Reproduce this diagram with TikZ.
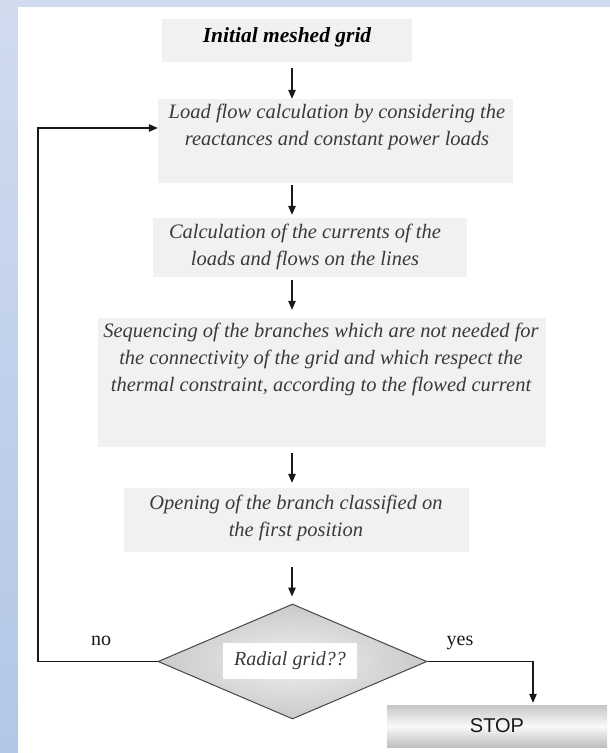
\documentclass[tikz,border=0pt]{standalone}
\usepackage{fontspec}
\setmainfont{Liberation Serif}
\newfontfamily\stopfont{Liberation Sans}
\usetikzlibrary{arrows.meta,shapes.geometric}
\definecolor{paneltop}{RGB}{208,219,238}
\definecolor{stripbot}{RGB}{178,198,231}
\definecolor{boxgray}{RGB}{241,241,241}
\definecolor{txtgray}{RGB}{58,58,58}
\definecolor{linegray}{RGB}{25,25,25}
\definecolor{diaedge}{RGB}{70,70,70}

\begin{document}
\begin{tikzpicture}[x=1pt,y=-1pt,
  procbox/.style={draw=none,fill=boxgray,inner sep=0pt},
  bodytext/.style={font=\fontsize{20.5}{27}\selectfont\itshape,text=txtgray,align=center,inner sep=0pt},
  flow/.style={draw=linegray,line width=1.3pt,-{Triangle[length=9pt,width=7.5pt]}},
  answer/.style={font=\fontsize{20}{24}\selectfont,text=linegray,inner sep=0pt},
  stopbox/.style={draw=none,inner sep=0pt,top color=gray!45,bottom color=gray!50,middle color=white!96!gray}]

% page background with the blue frame
\useasboundingbox (0,0) rectangle (610,753);
\fill[paneltop] (0,0) rectangle (610,753);
\shade[top color=paneltop,bottom color=stripbot] (0,0) rectangle (18,753);
\fill[white] (18,7) rectangle (610,753);

% guide coordinates
\coordinate (ax) at (292,0);
\coordinate (loopx) at (38,0);
\coordinate (loopy) at (0,128);
\coordinate (stopx) at (533,0);

% process boxes
\node[procbox,minimum width=250pt,minimum height=43pt] (b1) at (287,40.5) {};
\node[procbox,minimum width=355pt,minimum height=84pt] (b2) at (335.5,141) {};
\node[procbox,minimum width=314pt,minimum height=59pt] (b3) at (310,247.5) {};
\node[procbox,minimum width=448pt,minimum height=129pt] (b4) at (322,382.5) {};
\node[procbox,minimum width=345pt,minimum height=64pt] (b5) at (296.5,520) {};

% box texts
\node[font=\fontsize{21.5}{26}\selectfont\bfseries\itshape,inner sep=0pt] (t1) at (287,37.5) {Initial meshed grid};
\node[bodytext] (t2) at (337,127) {Load flow calculation by considering the\\reactances and constant power loads};
\node[bodytext] (t3) at (305,247) {Calculation of the currents of the\\loads and flows on the lines};
\node[bodytext] (t4) at (321,359) {Sequencing of the branches which are not needed for\\the connectivity of the grid and which respect the\\thermal constraint, according to the flowed current};
\node[bodytext] (t5) at (296,518) {Opening of the branch classified on\\the first position};

% decision
\node[diamond,draw=diaedge,line width=1pt,inner sep=0pt,minimum width=269pt,minimum height=115pt,
      inner color=gray!12,outer color=gray!42] (dia) at (292.5,661.5) {};
\node[fill=white,minimum width=134pt,minimum height=36pt,inner sep=0pt,
      font=\fontsize{20}{24}\selectfont\itshape,text=txtgray] (q) at (290,661) {Radial grid??};

% end box
\node[stopbox,minimum width=220pt,minimum height=42pt,font=\stopfont\fontsize{20}{24}\selectfont,text=linegray] (stop) at (497,726) {STOP};

% main flow
\draw[flow,shorten <=6pt] (b1.south -| ax) -- (b2.north -| ax);
\draw[flow,shorten <=2pt,shorten >=3pt] (b2.south -| ax) -- (b3.north -| ax);
\draw[flow,shorten <=3pt,shorten >=8pt] (b3.south -| ax) -- (b4.north -| ax);
\draw[flow,shorten <=6pt,shorten >=5pt] (b4.south -| ax) -- (b5.north -| ax);
\draw[flow,shorten <=15pt,shorten >=7pt] (b5.south -| ax) -- (dia.north -| ax);

% branches of the decision
\draw[flow] (dia.west) -- (dia.west -| loopx) -- (loopx |- loopy) -- (b2.west |- loopy);
\draw[flow,shorten >=2pt] (dia.east) -- (dia.east -| stopx) -- (stop.north -| stopx);

\node[answer] (no) at (101,641) {no};
\node[answer] (yes) at (460,643) {yes};
\end{tikzpicture}
\end{document}
